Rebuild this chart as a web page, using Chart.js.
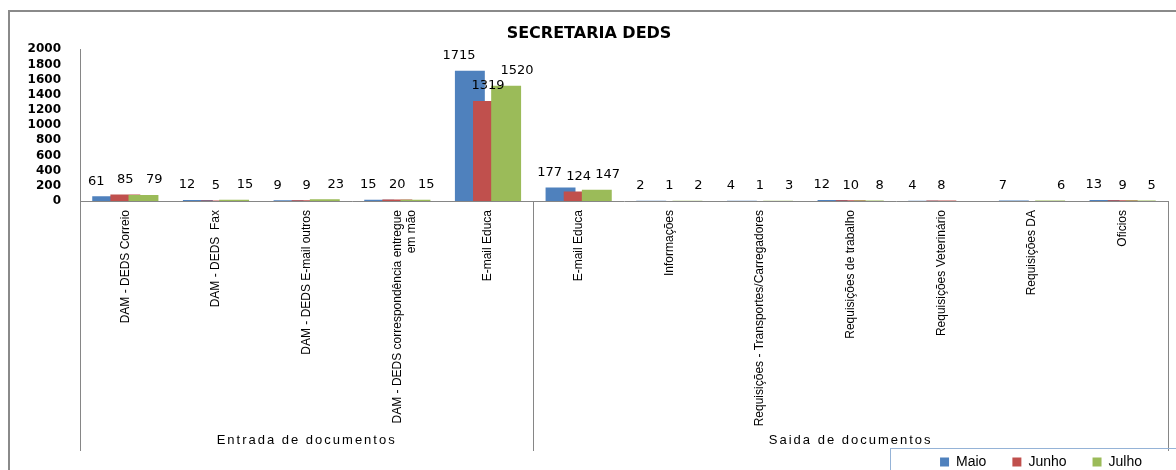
<!DOCTYPE html>
<html>
<head>
<meta charset="utf-8">
<script src="https://cdn.jsdelivr.net/npm/chart.js@4.4.1/dist/chart.umd.min.js"></script>
<style>
  html, body { margin: 0; padding: 0; background: #fff; }
  #wrap { width: 1176px; height: 470px; position: relative; }
</style>
</head>
<body>
<div id="wrap"><canvas id="c" width="1176" height="470"></canvas></div>
<script>
// ---- data ----
const categories = [
  'DAM - DEDS Correio',
  'DAM - DEDS  Fax',
  'DAM - DEDS E-mail outros',
  ['DAM - DEDS correspondência entregue', 'em mão'],
  'E-mail Educa',
  'E-mail Educa',
  'Informações',
  'Requisições - Transportes/Carregadores',
  'Requisições de trabalho',
  'Requisições Veterinário',
  'Requisições DA',
  'Oficios'
];
const groupNames = ['Entrada de documentos', 'Saida de documentos'];
const groupSizes = [5, 7];
const seriesNames = ['Maio', 'Junho', 'Julho'];
const maio  = [61, 12, 9, 15, 1715, 177, 2, 4, 12, 4, 7, 13];
const junho = [85, 5, 9, 20, 1319, 124, 1, 1, 10, 8, null, 9];
const julho = [79, 15, 23, 15, 1520, 147, 2, 3, 8, null, 6, 5];
const yMin = 0, yMax = 2000, yStep = 200;
const chartTitle = 'SECRETARIA DEDS';

// ---- styles ----
const colors = ['#4F81BD', '#C0504D', '#9BBB59'];
const catFont = "'Liberation Sans', Arial, sans-serif";
const axisColor = '#868686';

const framePlugin = {
  id: 'frame',
  beforeDraw(chart) {
    const ctx = chart.ctx;
    ctx.save();
    ctx.fillStyle = '#fff';
    ctx.fillRect(0, 0, chart.width, chart.height);
    ctx.strokeStyle = '#8a8a8a';
    ctx.lineWidth = 2;
    ctx.beginPath();
    ctx.moveTo(9, chart.height + 5);
    ctx.lineTo(9, 11);
    ctx.lineTo(chart.width + 5, 11);
    ctx.stroke();
    ctx.restore();
  }
};

// draw series in natural order so later series overlap earlier ones
const drawOrderPlugin = {
  id: 'drawOrder',
  beforeDatasetsDraw(chart) {
    const metas = chart.getSortedVisibleDatasetMetas();
    for (const m of metas) {
      if (typeof chart._drawDataset === 'function') chart._drawDataset(m);
      else m.controller.draw();
    }
    return false;
  }
};

const groupPlugin = {
  id: 'groups',
  afterDraw(chart) {
    const x = chart.scales.x;
    const area = chart.chartArea;
    const ctx = chart.ctx;
    const depth = 250;
    const bounds = [area.left];
    let acc = 0;
    groupSizes.forEach(n => {
      acc += n;
      if (acc >= categories.length) bounds.push(area.right);
      else bounds.push((x.getPixelForValue(acc - 1) + x.getPixelForValue(acc)) / 2);
    });
    ctx.save();
    ctx.strokeStyle = axisColor;
    ctx.lineWidth = 1;
    bounds.forEach(b => {
      const bx = Math.round(b) + 0.5;
      ctx.beginPath();
      ctx.moveTo(bx, area.bottom);
      ctx.lineTo(bx, area.bottom + depth);
      ctx.stroke();
    });
    ctx.fillStyle = '#000';
    ctx.font = '13px ' + catFont;
    try { ctx.letterSpacing = '2px'; } catch (e) {}
    ctx.textAlign = 'center';
    ctx.textBaseline = 'middle';
    groupNames.forEach((g, i) => {
      ctx.fillText(g, (bounds[i] + bounds[i + 1]) / 2, area.bottom + 239);
    });
    ctx.restore();
  }
};

const valueLabelPlugin = {
  id: 'valueLabels',
  afterDraw(chart) {
    const ctx = chart.ctx;
    const x = chart.scales.x;
    ctx.save();
    ctx.font = '13px "DejaVu Sans"';
    ctx.fillStyle = '#000';
    ctx.textAlign = 'center';
    ctx.textBaseline = 'middle';
    chart.data.datasets.forEach((ds, di) => {
      const meta = chart.getDatasetMeta(di);
      meta.data.forEach((bar, i) => {
        const v = ds.data[i];
        if (v === null || v === undefined) return;
        const cx = x.getPixelForValue(i);
        const lx = cx + (bar.x - cx) * 1.6;
        ctx.fillText(String(v), lx, bar.y - 15);
      });
    });
    ctx.restore();
  }
};

const legendBoxPlugin = {
  id: 'legendBox',
  afterDraw(chart) {
    const lg = chart.legend;
    if (!lg || !lg.legendHitBoxes || !lg.legendHitBoxes.length) return;
    const hb = lg.legendHitBoxes[0];
    const ctx = chart.ctx;
    ctx.save();
    ctx.strokeStyle = '#95B3D7';
    ctx.lineWidth = 1;
    ctx.strokeRect(Math.round(hb.left - 50) + 0.5, Math.round(hb.top - 7) + 0.5, chart.width, 60);
    ctx.restore();
  }
};

const seriesData = [maio, junho, julho];

new Chart(document.getElementById('c'), {
  type: 'bar',
  data: {
    labels: categories,
    datasets: seriesNames.map((name, i) => ({
      label: name,
      data: seriesData[i],
      backgroundColor: colors[i],
      borderWidth: 0,
      categoryPercentage: 0.6,
      barPercentage: 1.65
    }))
  },
  options: {
    responsive: false,
    animation: false,
    devicePixelRatio: 1,
    layout: { padding: { top: 12, left: 10, right: 8, bottom: -9 } },
    plugins: {
      title: {
        display: true,
        text: chartTitle,
        color: '#000',
        font: { family: 'DejaVu Sans', size: 16, weight: 'bold' },
        padding: { top: 12, bottom: 6 }
      },
      legend: {
        position: 'bottom',
        align: 'end',
        labels: {
          boxWidth: 9,
          boxHeight: 9,
          padding: 26,
          color: '#000',
          font: { family: catFont, size: 14 }
        }
      },
      tooltip: { enabled: false }
    },
    scales: {
      x: {
        grid: { display: false, drawTicks: false },
        border: { display: true, color: axisColor, width: 1 },
        ticks: {
          autoSkip: false,
          minRotation: 90,
          maxRotation: 90,
          padding: 9,
          color: '#000',
          font: { family: catFont, size: 12 }
        },
        afterFit(scale) { scale.height = 228; }
      },
      y: {
        min: yMin,
        max: yMax,
        grid: { display: false, drawTicks: false },
        border: { display: true, color: axisColor, width: 1 },
        ticks: {
          stepSize: yStep,
          autoSkip: false,
          padding: 19,
          color: '#000',
          font: { family: 'DejaVu Sans', size: 12, weight: 'bold' },
          callback: (v) => String(v)
        },
        afterFit(scale) { scale.width = 70; }
      }
    }
  },
  plugins: [framePlugin, drawOrderPlugin, groupPlugin, valueLabelPlugin, legendBoxPlugin]
});
</script>
</body>
</html>
